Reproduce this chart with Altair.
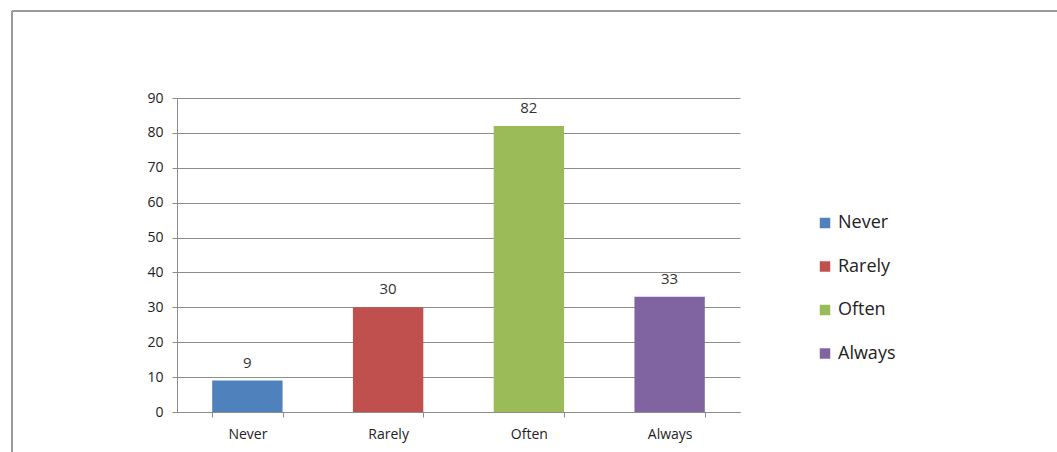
import altair as alt
import pandas as pd

# Survey response frequencies
categories = ["Never", "Rarely", "Often", "Always"]
counts = [9, 30, 82, 33]
colors = ["#4F81BD", "#C0504D", "#9BBB59", "#8064A2"]

df = pd.DataFrame({"response": categories, "count": counts})

FONT = "Open Sans"
GRID = "#8c8c8c"

x_enc = alt.X(
    "response:N",
    sort=categories,
    title=None,
    scale=alt.Scale(paddingInner=0.5, paddingOuter=0.25),
    axis=alt.Axis(
        labelAngle=0,
        labelFont=FONT,
        labelFontSize=14,
        labelColor="#222222",
        labelPadding=10,
        domainColor=GRID,
        tickColor=GRID,
        tickBand="extent",
        tickSize=5,
        grid=False,
    ),
)

y_enc = alt.Y(
    "count:Q",
    title=None,
    scale=alt.Scale(domain=[0, 90], nice=False),
    axis=alt.Axis(
        values=list(range(0, 91, 10)),
        labelOverlap=False,
        labelFont=FONT,
        labelFontSize=14,
        labelColor="#222222",
        labelPadding=9,
        domainColor=GRID,
        tickColor=GRID,
        tickSize=5,
        gridColor=GRID,
        gridWidth=1.2,
    ),
)

bars = alt.Chart(df).mark_bar().encode(
    x=x_enc,
    y=y_enc,
    color=alt.Color(
        "response:N",
        sort=categories,
        scale=alt.Scale(domain=categories, range=colors),
        legend=alt.Legend(
            title=None,
            orient="none",
            legendX=639,
            legendY=116,
            symbolType="square",
            symbolSize=110,
            symbolStrokeWidth=0,
            labelFont=FONT,
            labelFontSize=18,
            labelColor="#222222",
            labelOffset=4,
            rowPadding=25.5,
        ),
    ),
)

labels = alt.Chart(df).mark_text(
    baseline="bottom", dy=-10, font=FONT, fontSize=15, color="#333333"
).encode(
    x=x_enc,
    y=y_enc,
    text="count:Q",
)

# Outer frame lines around the figure region
frame_top = alt.Chart(df).mark_rule(color="#9a9a9a", strokeWidth=2).encode(
    x=alt.value(-165), x2=alt.value(900), y=alt.value(-87)
)
frame_left = alt.Chart(df).mark_rule(color="#9a9a9a", strokeWidth=2).encode(
    x=alt.value(-165), y=alt.value(-87), y2=alt.value(360)
)

chart = (
    alt.layer(bars, labels, frame_top, frame_left)
    .properties(
        width=563,
        height=314,
        autosize=alt.AutoSizeParams(type="none"),
        padding={"left": 177, "top": 98, "right": 317, "bottom": 40},
        background="white",
    )
    .configure_view(stroke=None)
)

chart.save("out.html", embed_options={"renderer": "svg", "actions": False})
